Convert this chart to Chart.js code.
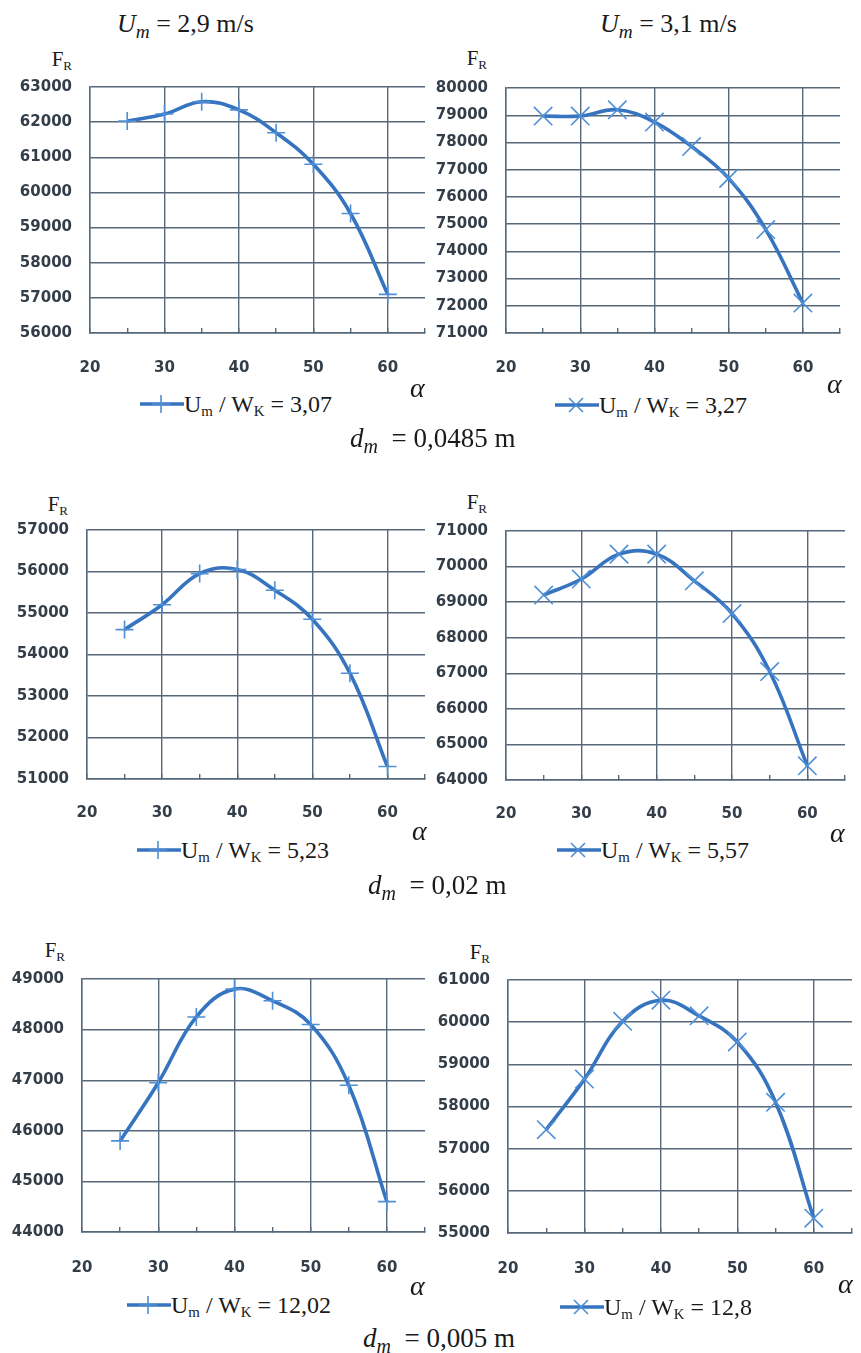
<!DOCTYPE html>
<html>
<head>
<meta charset="utf-8">
<script src="https://cdn.jsdelivr.net/npm/chart.js@4"></script>
<style>
  body { margin: 0; background: #fff; }
  #page { position: relative; width: 861px; height: 1353px; overflow: hidden; background: #fff; }
  canvas { position: absolute; }
  .t { position: absolute; font-family: "Liberation Serif", "Times New Roman", serif; color: #1a1a1a; white-space: nowrap; }
  .t sub { font-size: 62%; vertical-align: baseline; position: relative; top: 0.28em; }
  .t sub.big { font-size: 74%; top: 0.3em; }
  .r { text-align: right; }
  i { font-style: italic; }
  svg { position: absolute; }
</style>
</head>
<body>
<div id="page"></div>
<script>
"use strict";

// angle alpha, degrees
const alpha = [25, 30, 35, 40, 45, 50, 55, 60];

// F_R values
const frA = [62030, 62230, 62580, 62350, 61700, 60800, 59400, 57100];   // Um/WK = 3,07
const frB = [78970, 78970, 79200, 78750, 77850, 76680, 74800, 72100];   // Um/WK = 3,27
const frC = [54600, 55200, 55950, 56050, 55550, 54850, 53550, 51300];   // Um/WK = 5,23
const frD = [69200, 69650, 70350, 70350, 69600, 68680, 67050, 64400];   // Um/WK = 5,57
const frE = [45800, 46950, 48250, 48800, 48570, 48100, 46900, 44600];   // Um/WK = 12,02
const frF = [57450, 58650, 60020, 60520, 60150, 59530, 58100, 55350];   // Um/WK = 12,8

// y axis ranges (step 1000)
const yRangeA = [56000, 63000];
const yRangeB = [71000, 80000];
const yRangeC = [51000, 57000];
const yRangeD = [64000, 71000];
const yRangeE = [44000, 49000];
const yRangeF = [55000, 61000];

// x axis
const xRange = [20, 65];
const xLabels = [20, 30, 40, 50, 60];

const ratios = ['3,07', '3,27', '5,23', '5,57', '12,02', '12,8'];
const speeds = ['2,9', '3,1'];
const diameters = ['0,0485', '0,02', '0,005'];

const LINE = '#3674c0';
const MARK = '#4f8fd6';
const GRID = '#56687a';
const TICK = '#333e49';

const page = document.getElementById('page');

// size in px, baseline in px -> top for a line-height = size box
function txt(html, x, base, size, right) {
  let d = document.createElement('div');
  d.className = 't' + (right ? ' r' : '');
  d.style.fontSize = size + 'px';
  d.style.lineHeight = size + 'px';
  d.style.top = (base - 0.8375 * size) + 'px';
  if (right) {
    d.style.right = (861 - x) + 'px';
  } else {
    d.style.left = x + 'px';
  }
  d.innerHTML = html;
  page.appendChild(d);
  return d;
}

function legendSample(x, y, marker) {
  let mark = marker === 'cross'
    ? '<path d="M21 1 V19 M12 10 H30" stroke="' + MARK + '" stroke-width="1.6" fill="none"/>'
    : '<path d="M14 3 L28 17 M28 3 L14 17" stroke="' + MARK + '" stroke-width="1.6" fill="none"/>';
  let s = document.createElementNS('http://www.w3.org/2000/svg', 'svg');
  s.setAttribute('width', 44);
  s.setAttribute('height', 20);
  s.style.left = x + 'px';
  s.style.top = (y - 10) + 'px';
  s.innerHTML = '<line x1="0" y1="10" x2="44" y2="10" stroke="' + LINE + '" stroke-width="3.6"/>' + mark;
  page.appendChild(s);
}

const panels = [
  { data: frA, range: yRangeA, marker: 'cross',    left: 0,   top: 75,  w: 430, h: 300, axisW: 90, padT: 12, padR: 5,  axisH: 42, lblPad: 31 },
  { data: frB, range: yRangeB, marker: 'crossRot', left: 430, top: 76,  w: 431, h: 299, axisW: 76, padT: 12, padR: 21, axisH: 42, lblPad: 31 },
  { data: frC, range: yRangeC, marker: 'cross',    left: 0,   top: 518, w: 430, h: 303, axisW: 87, padT: 12, padR: 5,  axisH: 42, lblPad: 30 },
  { data: frD, range: yRangeD, marker: 'crossRot', left: 430, top: 519, w: 431, h: 303, axisW: 76, padT: 12, padR: 16, axisH: 42, lblPad: 30 },
  { data: frE, range: yRangeE, marker: 'cross',    left: 0,   top: 967, w: 430, h: 307, axisW: 82, padT: 12, padR: 5,  axisH: 42, lblPad: 32 },
  { data: frF, range: yRangeF, marker: 'crossRot', left: 430, top: 968, w: 431, h: 307, axisW: 78, padT: 12, padR: 9,  axisH: 42, lblPad: 32 }
];

const tickFont = { family: 'DejaVu Sans', size: 15, weight: 'bold' };

panels.forEach(function(p) {
  let canvas = document.createElement('canvas');
  canvas.width = p.w;
  canvas.height = p.h;
  canvas.style.left = p.left + 'px';
  canvas.style.top = p.top + 'px';
  page.appendChild(canvas);

  new Chart(canvas, {
    type: 'line',
    data: {
      datasets: [
        {
          data: alpha.map((a, i) => ({ x: a, y: p.data[i] })),
          borderColor: LINE,
          borderWidth: 3.6,
          tension: 0.4,
          fill: false,
          clip: false,
          pointStyle: p.marker,
          pointRadius: p.marker === 'cross' ? 9 : 13,
          pointBorderColor: MARK,
          pointBorderWidth: 1.6,
          pointBackgroundColor: MARK
        }
      ]
    },
    options: {
      responsive: false,
      animation: false,
      layout: { autoPadding: false, padding: { top: p.padT, right: p.padR, left: 0, bottom: 0 } },
      plugins: { legend: { display: false }, tooltip: { enabled: false } },
      scales: {
        x: {
          type: 'linear',
          min: xRange[0],
          max: xRange[1],
          afterFit: function(s) {
            s.height = p.axisH;
            s.paddingLeft = 0;
            s.paddingRight = 0;
          },
          ticks: {
            stepSize: 5,
            autoSkip: false,
            maxRotation: 0,
            padding: p.lblPad,
            color: TICK,
            font: tickFont,
            callback: v => xLabels.includes(v) ? String(v) : ''
          },
          grid: {
            color: c => (c.tick && xLabels.includes(c.tick.value)) ? GRID : 'rgba(0,0,0,0)',
            tickColor: GRID,
            tickLength: -5,
            lineWidth: 1.4
          },
          border: { color: GRID, width: 1.4 }
        },
        y: {
          min: p.range[0],
          max: p.range[1],
          afterFit: function(s) {
            s.width = p.axisW;
            s.paddingTop = 0;
            s.paddingBottom = 0;
          },
          ticks: {
            stepSize: 1000,
            padding: 18,
            color: TICK,
            font: tickFont,
            callback: v => String(v)
          },
          grid: { color: GRID, drawTicks: false, lineWidth: 1.4 },
          border: { color: GRID, width: 1.4 }
        }
      }
    }
  });
});

// titles
txt('<i>U<sub class="big">m</sub></i> = ' + speeds[0] + ' m/s', 117, 33, 26);
txt('<i>U<sub class="big">m</sub></i> = ' + speeds[1] + ' m/s', 600, 33, 26);

// F_R axis names
const frPos = [[72, 67], [487, 66], [68, 512], [487, 510], [65, 958], [490, 960]];
frPos.forEach(function(q) {
  txt('F<sub>R</sub>', q[0], q[1], 21, true);
});

// alpha axis names
const alphaPos = [[410, 397], [827, 393], [412, 840], [830, 842], [410, 1295], [838, 1293]];
alphaPos.forEach(function(q) {
  txt('<i>α</i>', q[0], q[1], 28);
});

// legends
const legPos = [[140, 412], [555, 413], [137, 858], [557, 858], [127, 1313], [560, 1315]];
legPos.forEach(function(q, i) {
  legendSample(q[0], q[1] - 8, panels[i].marker);
  txt('U<sub>m</sub> / W<sub>K</sub> = ' + ratios[i], q[0] + 44, q[1], 24);
});

// diameters
const dPos = [[350, 448], [368, 895], [363, 1348]];
dPos.forEach(function(q, i) {
  txt('<i>d<sub class="big">m</sub></i>&nbsp;&nbsp;= ' + diameters[i] + ' m', q[0], q[1], 27);
});
</script>
</body>
</html>
